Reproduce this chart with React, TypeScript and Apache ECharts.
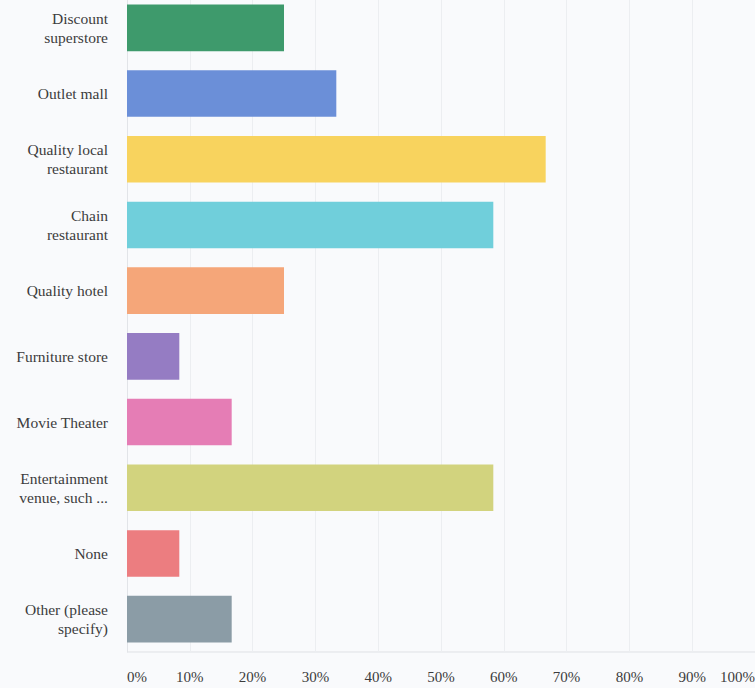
import React, { useEffect, useRef } from "react";
import * as echarts from "echarts";

const categories = [
  "Discount\nsuperstore",
  "Outlet mall",
  "Quality local\nrestaurant",
  "Chain\nrestaurant",
  "Quality hotel",
  "Furniture store",
  "Movie Theater",
  "Entertainment\nvenue, such ...",
  "None",
  "Other (please\nspecify)",
];

const values = [25, 33.33, 66.67, 58.33, 25, 8.33, 16.67, 58.33, 8.33, 16.67];

const barColors = [
  "#3e9a6c",
  "#6b8fd8",
  "#f8d35e",
  "#70cfdb",
  "#f5a679",
  "#957cc3",
  "#e57db5",
  "#d2d37e",
  "#ec7d80",
  "#8b9ca6",
];

const FONT = "Liberation Serif";

export default function App() {
  const ref = useRef<HTMLDivElement>(null);
  useEffect(() => {
    if (!ref.current) return;
    const chart = echarts.init(ref.current, null, { renderer: "svg" });
    chart.setOption({
      animation: false,
      backgroundColor: "#f9fafc",
      textStyle: { fontFamily: FONT },
      grid: {
        left: 127,
        width: 628,
        bottom: 36,
        height: 657,
        containLabel: false,
        outerBoundsMode: "none",
      },
      xAxis: {
        type: "value",
        min: 0,
        max: 100,
        interval: 10,
        axisLine: { show: false },
        axisTick: { show: false },
        splitLine: { show: true, lineStyle: { color: "#eceef1", width: 1 } },
        axisLabel: {
          formatter: "{value}%",
          fontFamily: FONT,
          fontSize: 15,
          color: "#3c3c3c",
          margin: 17,
          alignMinLabel: "left",
          alignMaxLabel: "right",
        },
      },
      yAxis: {
        type: "category",
        data: categories,
        inverse: true,
        axisLine: { show: true, lineStyle: { color: "#e2e4e8" } },
        axisTick: { show: false },
        splitLine: { show: false },
        axisLabel: {
          fontFamily: FONT,
          fontSize: 15.5,
          lineHeight: 19,
          color: "#3c3c3c",
          margin: 19,
          align: "right",
        },
      },
      series: [
        {
          type: "bar",
          data: values.map((v, i) => ({ value: v, itemStyle: { color: barColors[i] } })),
          barWidth: "71%",
        },
      ],
      graphic: [
        {
          type: "line",
          shape: { x1: 127, y1: 652, x2: 755, y2: 652 },
          style: { stroke: "#dfe1e5", lineWidth: 1 },
          silent: true,
        },
      ],
    });
    return () => chart.dispose();
  }, []);
  return (
    <div
      ref={ref}
      style={{ position: "fixed", left: 0, top: 0, width: 755, height: 688 }}
    />
  );
}
